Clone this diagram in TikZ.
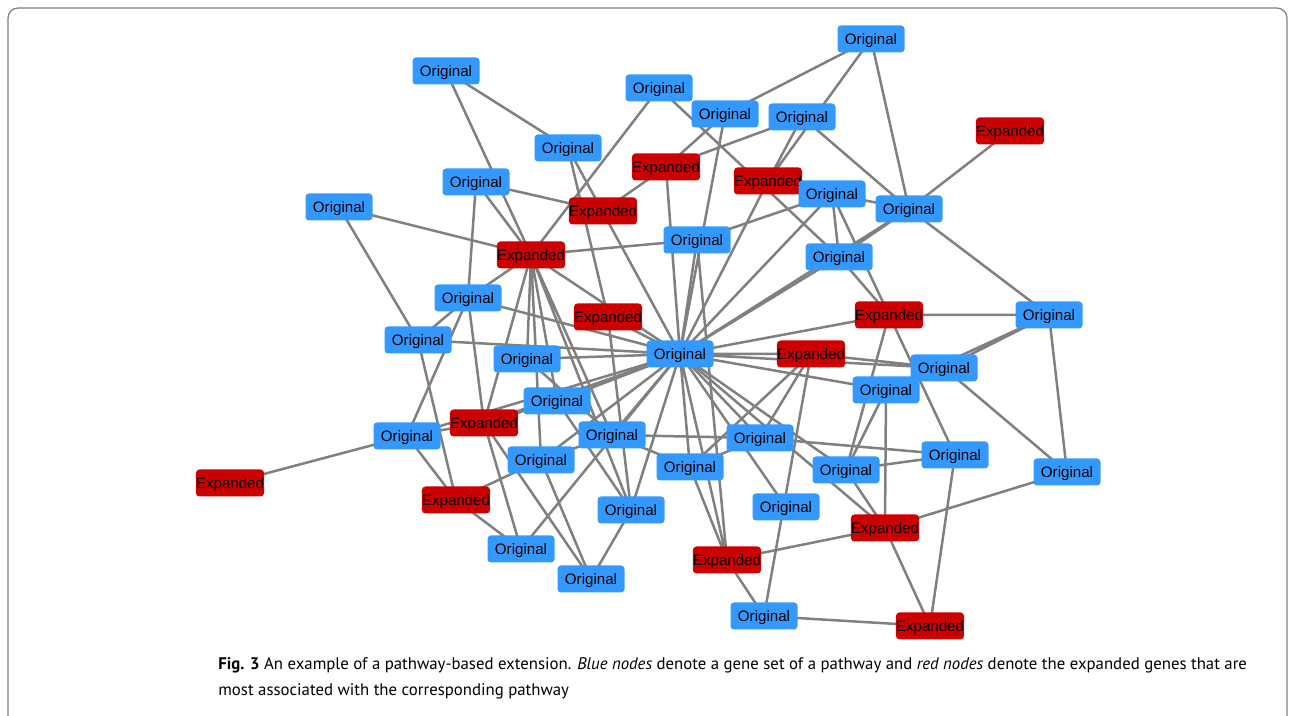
\documentclass[tikz,border=0pt]{standalone}
\usepackage{fontspec}
\setmainfont{Liberation Sans}
\newfontfamily\capfont{PT Sans}
\usetikzlibrary{backgrounds}

\definecolor{origblue}{RGB}{51,153,255}
\definecolor{expred}{RGB}{204,0,0}
\definecolor{linkgray}{RGB}{128,128,128}

\begin{document}
\begin{tikzpicture}[x=0.2mm, y=-0.2mm,
    gene/.style={rounded corners=0.7mm, minimum width=13.4mm, minimum height=5.4mm, inner sep=0pt, text height=6.2pt, text depth=0pt, font=\fontsize{8.6}{10}\selectfont},
    orig/.style={gene, fill=origblue},
    expd/.style={gene, fill=expred},
    link/.style={draw=linkgray, line width=0.5mm}]

        \useasboundingbox (0,0) rectangle (1290,716);
        % Frame round the figure
        \draw[gray, line width=0.25mm, rounded corners=2mm] (8,730) |- (1287,8) -- (1287,730);

        % Gene nodes, top to bottom
        \node[orig] (o1) at (446,71) {Original};
        \node[orig] (o2) at (871,39) {Original};
        \node[orig] (o3) at (659,88) {Original};
        \node[orig] (o4) at (725,114) {Original};
        \node[orig] (o5) at (802,117) {Original};
        \node[expd] (e1) at (1010,131) {Expanded};
        \node[orig] (o6) at (568,148) {Original};
        \node[expd] (e2) at (666,167) {Expanded};
        \node[expd] (e3) at (768,181) {Expanded};
        \node[orig] (o7) at (476,182) {Original};
        \node[orig] (o8) at (832,194) {Original};
        \node[orig] (o9) at (909,209) {Original};
        \node[orig] (o10) at (339,207) {Original};
        \node[expd] (e4) at (603,211) {Expanded};
        \node[orig] (o11) at (697,240) {Original};
        \node[expd] (e5) at (531,255) {Expanded};
        \node[orig] (o12) at (839,257) {Original};
        \node[orig] (o13) at (468,298) {Original};
        \node[expd] (e6) at (608,317) {Expanded};
        \node[expd] (e7) at (889,315) {Expanded};
        \node[orig] (o14) at (1049,315) {Original};
        \node[orig] (o15) at (418,340) {Original};
        \node[orig] (o16) at (680,354) {Original};  % the hub
        \node[expd] (e8) at (811,354) {Expanded};
        \node[orig] (o17) at (527,359) {Original};
        \node[orig] (o18) at (944,368) {Original};
        \node[orig] (o19) at (886,390) {Original};
        \node[orig] (o20) at (557,401) {Original};
        \node[expd] (e9) at (484,423) {Expanded};
        \node[orig] (o21) at (407,436) {Original};
        \node[orig] (o22) at (612,435) {Original};
        \node[orig] (o23) at (760,438) {Original};
        \node[orig] (o24) at (955,455) {Original};
        \node[orig] (o25) at (541,460) {Original};
        \node[orig] (o26) at (690,467) {Original};
        \node[orig] (o27) at (846,470) {Original};
        \node[orig] (o28) at (1067,472) {Original};
        \node[expd] (e10) at (230,483) {Expanded};
        \node[expd] (e11) at (456,500) {Expanded};
        \node[orig] (o29) at (786,507) {Original};
        \node[orig] (o30) at (631,510) {Original};
        \node[expd] (e12) at (885,528) {Expanded};
        \node[orig] (o31) at (521,549) {Original};
        \node[expd] (e13) at (727,560) {Expanded};
        \node[orig] (o32) at (591,579) {Original};
        \node[orig] (o33) at (764,616) {Original};
        \node[expd] (e14) at (930,626) {Expanded};

        % Links, kept under the boxes
        \begin{scope}[on background layer]
        % top part
        \draw[link] (o1.center) -- (e5.center) (o1.center) -- (o6.center) (o7.center) -- (e5.center) (o7.center) -- (e4.center) (o7.center) -- (o13.center);
        \draw[link] (o6.center) -- (e6.center) (o6.center) -- (o16.center) (o10.center) -- (e5.center) (o10.center) -- (o15.center);
        \draw[link] (o3.center) -- (e5.center) (o3.center) -- (o12.center) (o4.center) -- (e2.center) (o4.center) -- (o16.center);
        \draw[link] (o2.center) -- (o4.center) (o2.center) -- (e3.center) (o2.center) -- (o9.center) (o5.center) -- (e3.center) (o5.center) -- (e2.center) (o5.center) -- (o9.center);
        \draw[link] (o8.center) -- (o9.center) (o8.center) -- (o11.center) (o8.center) -- (o16.center) (o8.center) -- (o12.center);
        \draw[link] (o9.center) -- (o12.center) (o9.center) -- (e1.center) (o9.center) -- (o14.center) (o9.center) -- (o16.center);
        \draw[link] (e3.center) -- (o16.center) (e2.center) -- (o16.center) (e2.center) -- (e4.center) (o11.center) -- (o16.center) (o12.center) -- (o16.center);
        % left part
        \draw[link] (e5.center) -- (o11.center) (e5.center) -- (o16.center) (e5.center) -- (o13.center) (e5.center) -- (e9.center) (e5.center) -- (o17.center);
        \draw[link] (e5.center) -- (o25.center) (e5.center) -- (o20.center) (e5.center) -- (o22.center) (e5.center) -- (o30.center);
        \draw[link] (e6.center) -- (o16.center) (e6.center) -- (o30.center) (o13.center) -- (o16.center) (o13.center) -- (o15.center) (o13.center) -- (o21.center) (o13.center) -- (e9.center);
        \draw[link] (o15.center) -- (o16.center) (o15.center) -- (e11.center) (o17.center) -- (o16.center) (o17.center) -- (o22.center);
        \draw[link] (e9.center) -- (o16.center) (o20.center) -- (o16.center) (o20.center) -- (e9.center) (o20.center) -- (o30.center);
        \draw[link] (o21.center) -- (o16.center) (o21.center) -- (e9.center) (o21.center) -- (e10.center) (o21.center) -- (e11.center);
        \draw[link] (e11.center) -- (o25.center) (e11.center) -- (o31.center) (e9.center) -- (o31.center) (e9.center) -- (o32.center);
        \draw[link] (o25.center) -- (o32.center) (o25.center) -- (o22.center) (o25.center) -- (o16.center) (o31.center) -- (o16.center);
        \draw[link] (o22.center) -- (o16.center) (o30.center) -- (o16.center) (o30.center) -- (o32.center) (o22.center) -- (o23.center) (o22.center) -- (o26.center);
        % right part
        \draw[link] (o26.center) -- (o16.center) (o26.center) -- (o23.center) (o26.center) -- (e13.center) (o16.center) -- (e13.center) (o11.center) -- (e13.center);
        \draw[link] (o16.center) -- (o29.center) (e8.center) -- (o33.center) (e8.center) -- (o16.center) (e8.center) -- (o18.center) (o16.center) -- (o18.center);
        \draw[link] (e8.center) -- (o23.center) (e8.center) -- (o26.center) (o16.center) -- (o23.center) (o16.center) -- (o27.center) (o16.center) -- (o19.center);
        \draw[link] (o16.center) -- (e12.center) (o16.center) -- (e7.center) (e7.center) -- (o14.center) (e7.center) -- (o12.center) (e7.center) -- (o8.center);
        \draw[link] (e7.center) -- (o27.center) (e7.center) -- (o24.center) (o14.center) -- (o18.center) (o14.center) -- (o19.center) (o14.center) -- (o28.center);
        \draw[link] (o18.center) -- (o28.center) (o19.center) -- (o27.center) (o19.center) -- (e12.center) (o27.center) -- (e12.center) (o27.center) -- (o24.center);
        \draw[link] (o23.center) -- (o24.center) (o24.center) -- (e14.center) (e12.center) -- (e14.center) (e12.center) -- (e13.center) (e12.center) -- (o28.center);
        \draw[link] (e13.center) -- (o33.center) (o33.center) -- (e14.center);
        \end{scope}

        % Caption under the graph
        \node[anchor=north west, align=left, inner sep=0pt, font=\capfont\fontsize{9.55}{14.8}\selectfont] (figcap) at (218,657)
            {\textbf{Fig. 3} An example of a pathway-based extension. \textit{Blue nodes} denote a gene set of a pathway and \textit{red nodes} denote the expanded genes that are\\
             most associated with the corresponding pathway};

\end{tikzpicture}
\end{document}
